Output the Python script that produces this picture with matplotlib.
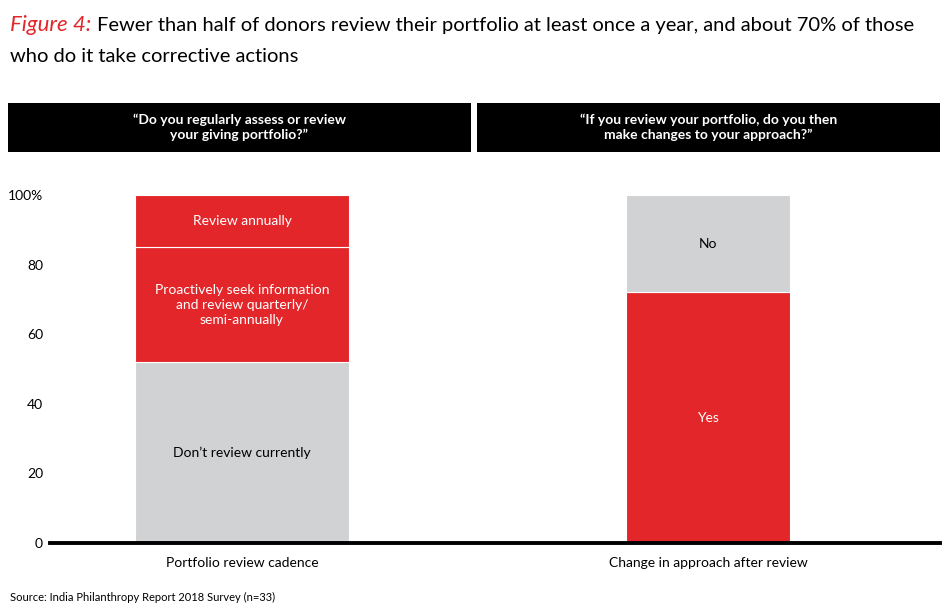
import matplotlib
matplotlib.use("Agg")
import matplotlib.pyplot as plt
from matplotlib.patches import Rectangle

categories = ["Portfolio review cadence", "Change in approach after review"]
headers = ["\u201cDo you regularly assess or review\nyour giving portfolio?\u201d",
           "\u201cIf you review your portfolio, do you then\nmake changes to your approach?\u201d"]
left_labels = ["Don\u2019t review currently",
               "Proactively seek information\nand review quarterly/\nsemi-annually",
               "Review annually"]
left_values = [52, 33, 15]
left_kinds = ["gray", "red", "red"]
right_labels = ["Yes", "No"]
right_values = [72, 28]
right_kinds = ["red", "gray"]
yticks = [0, 20, 40, 60, 80, 100]
yticklabels = ["0", "20", "40", "60", "80", "100%"]

RED = "#E3262A"
GRAY = "#D1D2D4"
colors = {"red": RED, "gray": GRAY}
txtcol = {"red": "white", "gray": "black"}
FONT = "Lato"
plt.rcParams['font.family'] = [FONT, 'DejaVu Sans']

W, H = 950, 615
fig = plt.figure(figsize=(W/100, H/100), dpi=100)

ax = fig.add_axes([50/W, (H-543)/H, 890/W, 348/H])
positions = [0, 1]
widths = [214/466, 164/466]

for pos, wd, labels, vals, kinds in [(positions[0], widths[0], left_labels, left_values, left_kinds),
                                      (positions[1], widths[1], right_labels, right_values, right_kinds)]:
    bottom = 0
    for lab, v, k in zip(labels, vals, kinds):
        ax.bar(pos, v, width=wd, bottom=bottom, color=colors[k],
               edgecolor="white", linewidth=0.8, zorder=2)
        ax.text(pos, bottom + v/2, lab, ha="center", va="center",
                color=txtcol[k], fontsize=10, linespacing=1.3, zorder=3)
        bottom += v

ax.set_xlim((50-242)/466, (940-242)/466)
ax.set_ylim(0, 100)
ax.set_yticks(yticks)
ax.set_yticklabels(yticklabels, fontsize=10)
ax.set_xticks(positions)
ax.set_xticklabels(categories, fontsize=10)
ax.tick_params(axis="both", length=0)
ax.tick_params(axis="y", pad=5)
ax.tick_params(axis="x", pad=10)
for s in ["top", "right", "left"]:
    ax.spines[s].set_visible(False)
ax.spines["bottom"].set_linewidth(2.8)
ax.spines["bottom"].set_color("black")
ax.spines["bottom"].set_zorder(4)

boxes = [(8, 471), (477, 940)]
for (x0, x1), htxt in zip(boxes, headers):
    fig.patches.append(Rectangle((x0/W, (H-152)/H), (x1-x0)/W, 49/H,
                                 transform=fig.transFigure, facecolor="black",
                                 edgecolor="none"))
    fig.text((x0+x1)/2/W, (H-127.5)/H, htxt, ha="center", va="center",
             color="white", fontsize=10, fontweight="bold", linespacing=1.25)

t1 = fig.text(10/W, (H-25)/H, "Figure 4:", color=RED, fontsize=16,
              style="italic", va="baseline", ha="left")
t1.set_y((H-31)/H)
fig.canvas.draw()
fig.text(0, 0, "Fewer than half of donors review their portfolio at least once a year, and about 70% of those",
         fontsize=14.5, va="baseline", ha="left",
         transform=matplotlib.transforms.offset_copy(
             fig.transFigure, fig=fig,
             x=t1.get_window_extent().x1 + 6, y=(H-31), units="dots"))
fig.text(10/W, (H-62)/H, "who do it take corrective actions",
         fontsize=14.5, va="baseline", ha="left")

fig.text(10/W, (H-597)/H, "Source: India Philanthropy Report 2018 Survey (n=33)",
         fontsize=8, va="center", ha="left")

fig.savefig("out.png", dpi=100)
